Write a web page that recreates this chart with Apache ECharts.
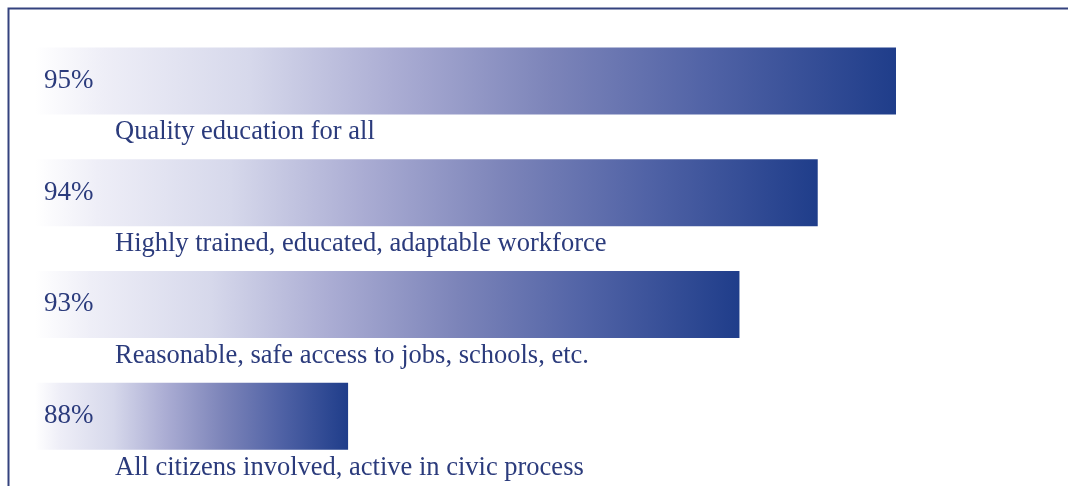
<!DOCTYPE html>
<html>
<head>
    <meta charset="utf-8">
    <title>Survey results</title>
    <script src="https://cdn.jsdelivr.net/npm/echarts@6/dist/echarts.min.js"></script>
    <style>
        html, body { margin: 0; padding: 0; background: #fff; }
        #chart1 { width: 1068px; height: 486px; }
    </style>
</head>
<body>
<div id="chart1"></div>
<script type="text/javascript">
    // categories, top to bottom
    var categories = [
        'Quality education for all',
        'Highly trained, educated, adaptable workforce',
        'Reasonable, safe access to jobs, schools, etc.',
        'All citizens involved, active in civic process'
    ];
    // share agreeing, in percent
    var percents = [95, 94, 93, 88];

    var navy = '#2b3b7c';
    var serif = '"Liberation Serif", "DejaVu Serif", serif';

    var myChart1 = echarts.init(document.getElementById('chart1'));

    myChart1.setOption({
        animation: false,
        backgroundColor: '#ffffff',
        // the thin frame round the chart
        graphic: [{
            type: 'rect',
            shape: { x: 8.5, y: 8.5, width: 1200, height: 600 },
            style: { fill: 'none', stroke: '#34427e', lineWidth: 2 },
            silent: true
        }],
        grid: { left: 35, right: 172, top: 25, bottom: 14 },
        xAxis: {
            type: 'value',
            min: 84,
            max: 95,
            show: false
        },
        yAxis: {
            type: 'category',
            inverse: true,
            data: categories,
            axisLine: { show: false },
            axisTick: { show: false },
            axisLabel: {
                inside: true,
                margin: 80,
                align: 'left',
                verticalAlign: 'top',
                padding: [38, 0, 0, 0],
                color: navy,
                fontFamily: serif,
                fontSize: 26.5
            },
            z: 10
        },
        series: [{
            type: 'bar',
            data: percents,
            barWidth: 67,
            itemStyle: {
                color: new echarts.graphic.LinearGradient(0, 0, 1, 0, [
                    { offset: 0, color: '#ffffff' },
                    { offset: 0.08, color: '#eeeef7' },
                    { offset: 0.25, color: '#d6d8eb' },
                    { offset: 0.42, color: '#aaacd3' },
                    { offset: 0.6, color: '#7c84b9' },
                    { offset: 0.78, color: '#5163a6' },
                    { offset: 1, color: '#1f3d8a' }
                ])
            },
            label: {
                show: true,
                position: 'insideLeft',
                distance: 9,
                formatter: '{c}%',
                color: navy,
                fontFamily: serif,
                fontSize: 27
            }
        }]
    });
</script>
</body>
</html>
